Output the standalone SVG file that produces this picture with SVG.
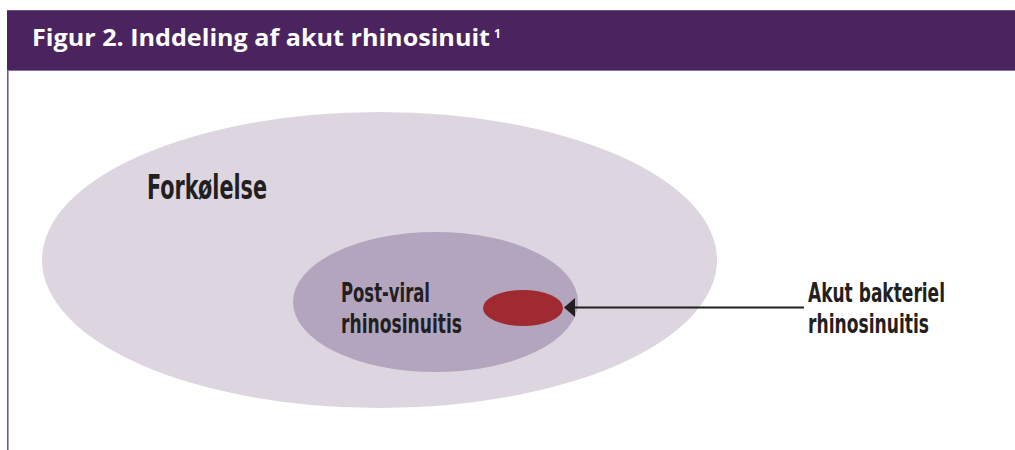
<svg xmlns="http://www.w3.org/2000/svg" width="1015" height="450" viewBox="0 0 1015 450">
<defs>
<style>
.lbl{font-family:"DejaVu Sans Condensed","DejaVu Sans","Liberation Sans",sans-serif;font-weight:bold;font-stretch:condensed;fill:#231f20;}
.ttl{font-family:"Open Sans","Liberation Sans",sans-serif;font-weight:700;fill:#ffffff;}
</style>
</defs>
<rect x="0" y="0" width="1015" height="450" fill="#ffffff"/>
<g id="header">
<rect x="7" y="10" width="1008" height="61" fill="#4b245f"/>
<line x1="7" y1="10.5" x2="1015" y2="10.5" stroke="#6e5180" stroke-width="1"/>
<line x1="7" y1="70.5" x2="1015" y2="70.5" stroke="#8c74a0" stroke-width="1"/>
<text class="ttl" x="32" y="46" font-size="24" textLength="458" lengthAdjust="spacingAndGlyphs">Figur 2. Inddeling af akut rhinosinuit</text>
<text class="ttl" x="494" y="38" font-size="12">1</text>
</g>
<line x1="7.8" y1="71" x2="7.8" y2="450" stroke="#6f4f82" stroke-width="1.5"/>
<g id="forkoelelse">
<ellipse cx="379.5" cy="260" rx="337.5" ry="148" fill="#ddd6e1"/>
<text class="lbl" x="147" y="199" font-size="33" textLength="120" lengthAdjust="spacingAndGlyphs">Forkølelse</text>
</g>
<g id="postviral">
<ellipse cx="435.5" cy="302" rx="142.5" ry="70" fill="#b4a5bf"/>
<text class="lbl" x="341" y="302" font-size="26" textLength="89" lengthAdjust="spacingAndGlyphs">Post-viral</text>
<text class="lbl" x="341" y="333" font-size="26" textLength="121" lengthAdjust="spacingAndGlyphs">rhinosinuitis</text>
</g>
<g id="bakteriel">
<ellipse cx="523" cy="308" rx="40" ry="18" fill="#9f2b31"/>
</g>
<g id="label-bakteriel">
<text class="lbl" x="808" y="302" font-size="26" textLength="137" lengthAdjust="spacingAndGlyphs">Akut bakteriel</text>
<text class="lbl" x="808" y="333" font-size="26" textLength="121" lengthAdjust="spacingAndGlyphs">rhinosinuitis</text>
</g>
<g id="connectors">
<line x1="804" y1="307.5" x2="575" y2="307.5" stroke="#231f20" stroke-width="1.8"/>
<path d="M564,307.5 L575,298 L575,317 Z" fill="#231f20"/>
</g>
</svg>
